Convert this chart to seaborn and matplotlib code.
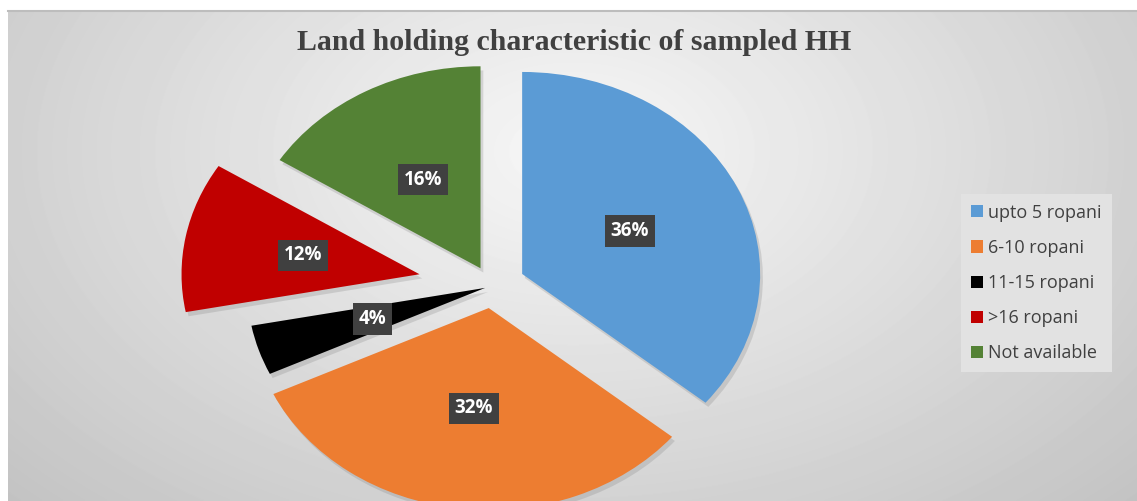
import numpy as np
import seaborn as sns
import matplotlib.pyplot as plt
import matplotlib.patheffects as pe

# data
categories = ['upto 5 ropani', '6-10 ropani', '11-15 ropani', '>16 ropani', 'Not available']
shares = [36, 32, 4, 12, 16]
colors = ['#5B9BD5', '#ED7D31', '#000000', '#C00000', '#548235']
explode = [0.14, 0.11, 0.03, 0.31, 0.10]

sns.set_theme(style='white')
plt.rcParams['font.family'] = ['Open Sans', 'DejaVu Sans']

W, H = 1137, 501
fig = plt.figure(figsize=(W / 100, H / 100), dpi=100, facecolor='white')

# gradient background (chart area)
bg = fig.add_axes([8 / W, 0, 1 - 8 / W, (H - 11) / H])
yy, xx = np.mgrid[0:490, 0:1129]
r = np.sqrt(((xx - 565) / 680.0) ** 2 + ((yy - 140) / 440.0) ** 2)
bg.imshow(0.97 - 0.18 * r, cmap='gray', vmin=0, vmax=1, aspect='auto',
          interpolation='bilinear')
bg.set_xticks([])
bg.set_yticks([])
for s in ['bottom', 'right', 'left']:
    bg.spines[s].set_visible(False)
bg.spines['top'].set_color('#bdbdbd')
bg.spines['top'].set_linewidth(1.5)

# pie axes, stretched horizontally like the original
ax = fig.add_axes([0, 0, 1, 1])
ax.patch.set_alpha(0)
wedges, _, autotexts = ax.pie(
    shares, colors=colors, explode=explode, startangle=90, counterclock=False,
    autopct='%1.0f%%', pctdistance=0.5, labels=None,
    wedgeprops=dict(linewidth=0),
    textprops=dict(color='white', fontsize=13.5, fontweight='bold'))
for w in wedges:
    w.set_path_effects([pe.SimplePatchShadow(offset=(2, -3), shadow_rgbFace='#808080', alpha=0.25),
                        pe.Normal()])
for t in autotexts:
    t.set_bbox(dict(boxstyle='square,pad=0.3', facecolor='#404040', edgecolor='none'))

sx, sy = 238.0, 202.0
cx, cy = 492.0, 286.0
ax.set_aspect('auto')
ax.set_xlim(-cx / sx, (W - cx) / sx)
ax.set_ylim(-(H - cy) / sy, cy / sy)
ax.axis('off')

fig.text(574 / W, 1 - 42 / H, 'Land holding characteristic of sampled HH',
         ha='center', va='center', fontsize=21.5, fontweight='bold',
         family='Liberation Serif', color='#404040')

leg = fig.legend(wedges, categories, loc='center left',
                 bbox_to_anchor=(961 / W, 1 - 283 / H), fontsize=13,
                 frameon=True, fancybox=False, labelspacing=0.95,
                 handlelength=0.65, handleheight=0.65, handletextpad=0.3,
                 borderpad=0.55, borderaxespad=0)
leg.get_frame().set_facecolor('#e2e2e2')
leg.get_frame().set_edgecolor('none')
leg.get_frame().set_alpha(1)
for h in leg.legend_handles:
    h.set_path_effects([])
for t in leg.get_texts():
    t.set_color('#404040')

fig.savefig('out.png', dpi=100)
